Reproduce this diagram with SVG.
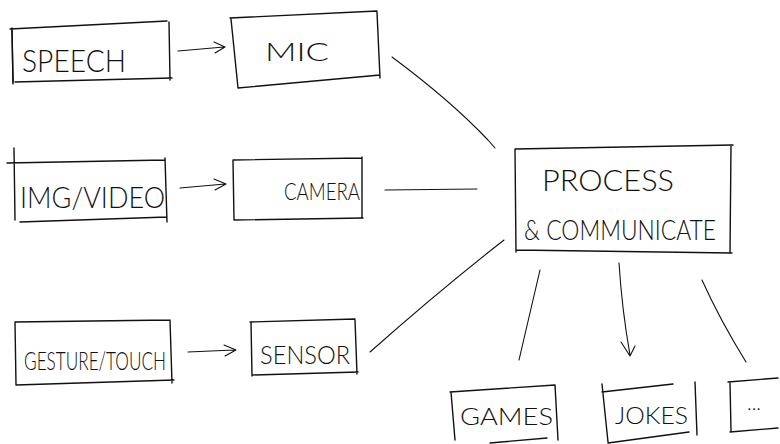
<svg xmlns="http://www.w3.org/2000/svg" width="780" height="444" viewBox="0 0 780 444">
  <defs>
    <style>
      .box { fill: none; stroke: #111; stroke-width: 1.4; stroke-linecap: round; stroke-linejoin: round; }
      .edge { fill: none; stroke: #111; stroke-width: 1.1; stroke-linecap: round; stroke-linejoin: round; }
      .lbl { font-family: "Lato", "Liberation Sans", sans-serif; font-weight: 300; fill: #111; }
    </style>
  </defs>
  <rect width="780" height="444" fill="#fff"/>

  <g id="speech">
    <path class="box" d="M10 29 L167 21 M12 28 L13 84 M15 82 L172 78 M169 22 L170 80"/>
    <path class="box" d="M12 30 L13 82" stroke-width="3"/>
    <text class="lbl" x="22" y="72" font-size="32" textLength="104" lengthAdjust="spacingAndGlyphs">SPEECH</text>
  </g>

  <g id="mic">
    <path class="box" d="M230 18 L377 11 M231 19 L238 88 M238 88 L380 75 M377 12 L380 78"/>
    <text class="lbl" x="265" y="61" font-size="26" textLength="64" lengthAdjust="spacingAndGlyphs">MIC</text>
  </g>

  <g id="img-video">
    <path class="box" d="M7 163 L165 160 M14 148 L15 220 M20 222 L167 217 M165 158 L167 222"/>
    <text class="lbl" x="20" y="208" font-size="30" textLength="145" lengthAdjust="spacingAndGlyphs">IMG/VIDEO</text>
  </g>

  <g id="camera">
    <path class="box" d="M233 160 L362 158 M233 160 L234 220 M234 220 L363 218 M362 157 L362 218"/>
    <text class="lbl" x="284" y="200" font-size="24" textLength="76" lengthAdjust="spacingAndGlyphs">CAMERA</text>
  </g>

  <g id="gesture-touch">
    <path class="box" d="M15 322 L170 320 M15 322 L16 385 M16 385 L174 380 M170 320 L172 383"/>
    <text class="lbl" x="24" y="370" font-size="26" textLength="142" lengthAdjust="spacingAndGlyphs">GESTURE/TOUCH</text>
  </g>

  <g id="sensor">
    <path class="box" d="M250 322 L355 319 M251 322 L252 376 M252 375 L358 372 M355 320 L357 374"/>
    <text class="lbl" x="260" y="364" font-size="26" textLength="90" lengthAdjust="spacingAndGlyphs">SENSOR</text>
  </g>

  <g id="process">
    <path class="box" d="M515 149 L733 145 M515 149 L516 252 M516 250 L732 253 M731 145 L730 253"/>
    <text class="lbl" x="542" y="191" font-size="30" textLength="132" lengthAdjust="spacingAndGlyphs">PROCESS</text>
    <text class="lbl" x="524" y="240" font-size="28" textLength="192" lengthAdjust="spacingAndGlyphs">&amp; COMMUNICATE</text>
  </g>

  <g id="games">
    <path class="box" d="M450 392 L555 385 M451 392 L455 440 M490 443 L547 438 M555 385 L558 440"/>
    <text class="lbl" x="460" y="425" font-size="24" textLength="93" lengthAdjust="spacingAndGlyphs">GAMES</text>
  </g>

  <g id="jokes">
    <path class="box" d="M602 392 L673 384 M602 384 L608 442 M608 443 L689 432 M695 382 L697 435"/>
    <text class="lbl" x="615" y="424" font-size="24" textLength="73" lengthAdjust="spacingAndGlyphs">JOKES</text>
  </g>

  <g id="more">
    <path class="box" d="M728 382 L778 378 M730 382 L731 431 M730 432 L778 428"/>
    <text class="lbl" x="747" y="410" font-size="20">...</text>
  </g>

  <g id="connectors">
    <path class="edge" d="M178 51 L224 47 M214 42 L225 47 L215 53"/>
    <path class="edge" d="M180 188 L225 184 M214 179 L226 184 L215 190"/>
    <path class="edge" d="M188 352 L234 350 M224 345 L236 350 L225 356"/>
    <path class="edge" d="M392 57 Q450 100 488 140 L495 148"/>
    <path class="edge" d="M385 190 L477 189"/>
    <path class="edge" d="M370 352 Q440 290 504 240"/>
    <path class="edge" d="M540 270 L519 360"/>
    <path class="edge" d="M619 263 Q622 310 630 355 M621 342 L630 356 L635 346"/>
    <path class="edge" d="M702 280 Q720 320 746 362"/>
  </g>
</svg>
